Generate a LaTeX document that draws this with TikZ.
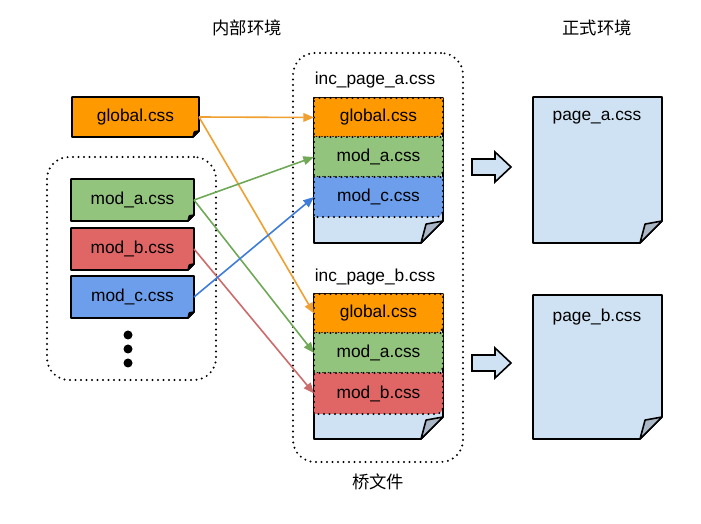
\documentclass[tikz,border=0pt]{standalone}
\usepackage{fontspec}
\setmainfont{Liberation Sans}
\newfontfamily\cjk{Noto Sans CJK SC}
\usetikzlibrary{arrows.meta,backgrounds}
\definecolor{forange}{HTML}{FF9900}
\definecolor{fgreen}{HTML}{93C47D}
\definecolor{fred}{HTML}{E06666}
\definecolor{fblue}{HTML}{6D9EEB}
\definecolor{fpage}{HTML}{CFE2F3}
\definecolor{ffold}{HTML}{A9B7C6}
\definecolor{corange}{HTML}{F0A030}
\definecolor{cgreen}{HTML}{6FA857}
\definecolor{cred}{HTML}{CC6B6B}
\definecolor{cblue}{HTML}{3D7CD8}
\newcommand\docshape[5]{%
\begin{scope}[on background layer]
\filldraw[fill=#2,#5] (#1.north west) -- (#1.north east) -- ([yshift=#3*0.75pt]#1.south east) -- ([xshift=-#3*0.75pt]#1.south east) -- (#1.south west) -- cycle;
\filldraw[fill=#4,#5] ([xshift=-#3*0.75pt]#1.south east) -- ([yshift=#3*0.75pt]#1.south east) -- ([xshift=-0.77*#3*0.75pt,yshift=0.86*#3*0.75pt]#1.south east) -- cycle;
\end{scope}}
\newcommand\layerbox[2]{%
\begin{scope}[on background layer]
\path[fill=#2,draw=black,dotline] (#1.north west) -- (#1.north east) -- ([yshift=7*0.75pt]#1.south east) to[out=-90,in=0] ([xshift=-7*0.75pt]#1.south east) -- (#1.south west) -- cycle;
\end{scope}}
\begin{document}
\begin{tikzpicture}[x=0.75pt,y=-0.75pt,
  font=\fontsize{13}{15}\selectfont,
  blk/.style={inner sep=0pt,outer sep=0pt,draw=none},
  dotline/.style={line width=2.2*0.75pt,dash pattern=on 0pt off 5.5*0.75pt,line cap=round},
  grp/.style={blk,draw=black,dotline,rounded corners=22*0.75pt},
  conn/.style={line width=1.6*0.75pt,-{Triangle[length=8pt,width=6.5pt]}},
  solidb/.style={draw=black,line width=1.6*0.75pt,line join=round},
  bigarrow/.style={fill=fpage,draw=black,line width=1.6*0.75pt,line join=miter},
  dot/.style={circle,fill=black,inner sep=0pt,minimum size=9*0.75pt}]
\useasboundingbox (0,0) rectangle (701,524);

% titles
\node (t1) at (247,28) {\cjk 内部环境};
\node (t2) at (597,28) {\cjk 正式环境};
\node (t3) at (378,482) {\cjk 桥文件};

% groups
\node[grp,minimum width=169*0.75pt,minimum height=223*0.75pt] (lgrp) at (131.5,268.5) {};
\node[grp,minimum width=170*0.75pt,minimum height=409*0.75pt] (mgrp) at (378,257.5) {};

% left boxes
\node[blk,minimum width=127*0.75pt,minimum height=40*0.75pt] (glob) at (135.5,117) {global.css};
\node[blk,minimum width=123*0.75pt,minimum height=42*0.75pt] (moda) at (132.5,200) {mod\_a.css};
\node[blk,minimum width=123*0.75pt,minimum height=42*0.75pt] (modb) at (132.5,249) {mod\_b.css};
\node[blk,minimum width=123*0.75pt,minimum height=42*0.75pt] (modc) at (132.5,297) {mod\_c.css};
\docshape{glob}{forange}{6}{black}{solidb}
\docshape{moda}{fgreen}{6}{black}{solidb}
\docshape{modb}{fred}{6}{black}{solidb}
\docshape{modc}{fblue}{6}{black}{solidb}
\node[dot] (d1) at (128,335) {};
\node[dot] (d2) at (128,349) {};
\node[dot] (d3) at (128,363) {};

% middle stacks
\node (la) at (375,80) {inc\_page\_a.css};
\node (lb) at (375,277) {inc\_page\_b.css};
\node[blk,minimum width=129*0.75pt,minimum height=145*0.75pt] (sa) at (378.5,170.5) {};
\node[blk,minimum width=129*0.75pt,minimum height=145*0.75pt] (sb) at (378.5,366.5) {};
\docshape{sa}{fpage}{22}{ffold}{solidb}
\docshape{sb}{fpage}{22}{ffold}{solidb}
\node[blk,minimum width=129*0.75pt,minimum height=39*0.75pt] (aG) at (378.5,117.5) {global.css};
\node[blk,minimum width=129*0.75pt,minimum height=40*0.75pt] (aA) at (378.5,157) {mod\_a.css};
\node[blk,minimum width=129*0.75pt,minimum height=40*0.75pt] (aC) at (378.5,197) {mod\_c.css};
\node[blk,minimum width=129*0.75pt,minimum height=39*0.75pt] (bG) at (378.5,313.5) {global.css};
\node[blk,minimum width=129*0.75pt,minimum height=40*0.75pt] (bA) at (378.5,353) {mod\_a.css};
\node[blk,minimum width=129*0.75pt,minimum height=41*0.75pt] (bB) at (378.5,393.5) {mod\_b.css};
\layerbox{aG}{forange}
\layerbox{aA}{fgreen}
\layerbox{aC}{fblue}
\layerbox{bG}{forange}
\layerbox{bA}{fgreen}
\layerbox{bB}{fred}

% right pages
\node[blk,minimum width=129*0.75pt,minimum height=146*0.75pt] (pa) at (597.5,170) {};
\node[blk,minimum width=129*0.75pt,minimum height=144*0.75pt] (pb) at (597.5,367) {};
\docshape{pa}{fpage}{22}{ffold}{solidb}
\docshape{pb}{fpage}{22}{ffold}{solidb}
\node (pat) at (597,118) {page\_a.css};
\node (pbt) at (597,317) {page\_b.css};

% block arrows
\draw[bigarrow] (472,159) -- (495,159) -- (495,152) -- (511,167) -- (495,182) -- (495,175) -- (472,175) -- cycle;
\draw[bigarrow] (472,355) -- (495,355) -- (495,348) -- (511,363) -- (495,378) -- (495,371) -- (472,371) -- cycle;

% connectors
\draw[conn,corange] (glob.east) -- (aG.west);
\draw[conn,corange] (glob.east) -- (bG.west);
\draw[conn,cgreen] (moda.east) -- (aA.west);
\draw[conn,cgreen] (moda.east) -- (bA.west);
\draw[conn,cred] (modb.east) -- (bB.west);
\draw[conn,cblue] (modc.east) -- (aC.west);
\end{tikzpicture}
\end{document}
